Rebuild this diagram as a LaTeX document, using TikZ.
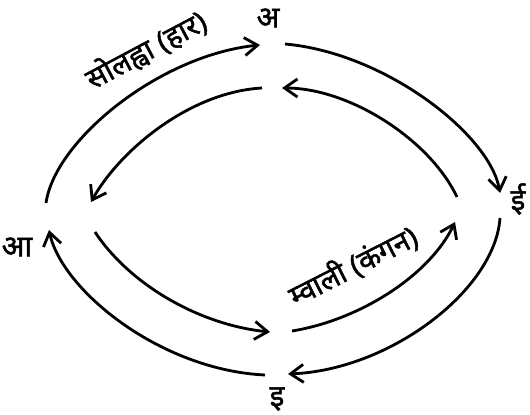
\documentclass[tikz,border=0pt]{standalone}
\usepackage{fontspec}
\newfontfamily\deva[Script=Devanagari, AutoFakeBold=1.5]{Noto Sans}
\usetikzlibrary{arrows.meta}

\begin{document}
\begin{tikzpicture}[
        x=0.02cm, y=-0.02cm,
        varna/.style={font=\deva\fontsize{17}{18}\selectfont\bfseries, inner sep=1pt},
        naam/.style={font=\deva\fontsize{16.5}{18}\selectfont\bfseries, inner sep=1pt},
        arc/.style={-{Straight Barb[length=2.6mm, width=3.6mm]}, line width=1.6pt}
    ]
        \useasboundingbox (0,0) rectangle (530,415);
        \node[varna] (va) at (268,18) {अ};
        \node[varna] (vaa) at (17,247) {आ};
        \node[varna] (vi) at (277,399) {इ};
        \node[varna] (vii) at (518,199) {ई};
        % outer ring
        \coordinate (p1) at (46,203);
        \coordinate (p2) at (260,45);
        \coordinate (p3) at (285,44);
        \coordinate (p4) at (500,193);
        \coordinate (p5) at (500,218);
        \coordinate (p6) at (288,374);
        \coordinate (p7) at (265,375);
        \coordinate (p8) at (49,230);
        \draw[arc] (p1) .. controls (55,140) and (160,55) .. (p2);
        \draw[arc] (p3) .. controls (386,53) and (490,135) .. (p4);
        \draw[arc] (p5) .. controls (495,290) and (390,370) .. (p6);
        \draw[arc] (p7) .. controls (160,370) and (62,290) .. (p8);
        % inner ring
        \coordinate (q1) at (457,197);
        \coordinate (q2) at (282,88);
        \coordinate (q3) at (262,88);
        \coordinate (q4) at (91,202);
        \coordinate (q5) at (95,232);
        \coordinate (q6) at (270,332);
        \coordinate (q7) at (292,331);
        \coordinate (q8) at (455,222);
        \draw[arc] (q1) .. controls (430,140) and (350,88) .. (q2);
        \draw[arc] (q3) .. controls (190,92) and (120,150) .. (q4);
        \draw[arc] (q5) .. controls (130,285) and (200,325) .. (q6);
        \draw[arc] (q7) .. controls (360,320) and (430,275) .. (q8);
        % names on the arcs
        \node[naam, rotate=28] (haar) at (146,50) {सोलह्वा (हार)};
        \node[naam, rotate=27] (kangan) at (353,266) {म्वाली (कंगन)};
\end{tikzpicture}
\end{document}
